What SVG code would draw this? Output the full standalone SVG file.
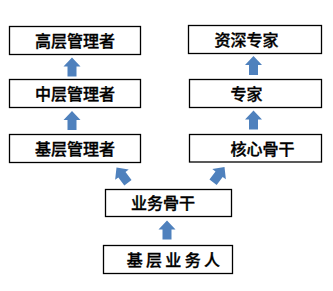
<svg xmlns="http://www.w3.org/2000/svg" width="333" height="291" viewBox="0 0 333 291">
<style>
.box{fill:#fff;stroke:#000;stroke-width:1.3}
.t{font-family:"Noto Sans CJK SC","Liberation Sans",sans-serif;font-size:16px;font-weight:500;fill:#000;stroke:#000;stroke-width:0.35;text-anchor:middle}
.arr{fill:#4F81BD}
</style>
<defs>
<path id="up" d="M0,0 L8.5,9 L4.5,9 L4.5,19 L-4.5,19 L-4.5,9 L-8.5,9 Z"/>
</defs>
<rect width="333" height="291" fill="#fff"/>
<g id="n1"><rect class="box" x="9.5" y="26.5" width="131" height="28"/><text class="t" x="75" y="46.5">高层管理者</text></g>
<g id="n2"><rect class="box" x="9.5" y="79.5" width="131" height="28"/><text class="t" x="75" y="99.5">中层管理者</text></g>
<g id="n3"><rect class="box" x="9.5" y="134.5" width="131" height="28"/><text class="t" x="75" y="154.5">基层管理者</text></g>
<g id="n4"><rect class="box" x="188.5" y="25.5" width="133" height="28"/><text class="t" x="246.5" y="45.5">资深专家</text></g>
<g id="n5"><rect class="box" x="189.5" y="79.5" width="132" height="28"/><text class="t" x="246.5" y="99.5">专家</text></g>
<g id="n6"><rect class="box" x="189.5" y="134.5" width="132" height="27.5"/><text class="t" x="262.5" y="154.5">核心骨干</text></g>
<g id="n7"><rect class="box" x="105.5" y="189.5" width="126" height="27"/><text class="t" x="163" y="209">业务骨干</text></g>
<g id="n8"><rect class="box" x="103.5" y="245.5" width="129" height="28"/><text class="t" x="175" y="265.5" letter-spacing="3.3">基层业务人</text></g>
<g id="connectors">
<use href="#up" class="arr" x="72" y="57.5"/>
<use href="#up" class="arr" x="72" y="111"/>
<use href="#up" class="arr" x="253.5" y="56"/>
<use href="#up" class="arr" x="253.5" y="110.5"/>
<use href="#up" class="arr" x="167" y="220.5"/>
<use href="#up" class="arr" transform="translate(116.5,167.5) rotate(-37)"/>
<use href="#up" class="arr" transform="translate(224.5,167) rotate(37)"/>
</g>
</svg>
